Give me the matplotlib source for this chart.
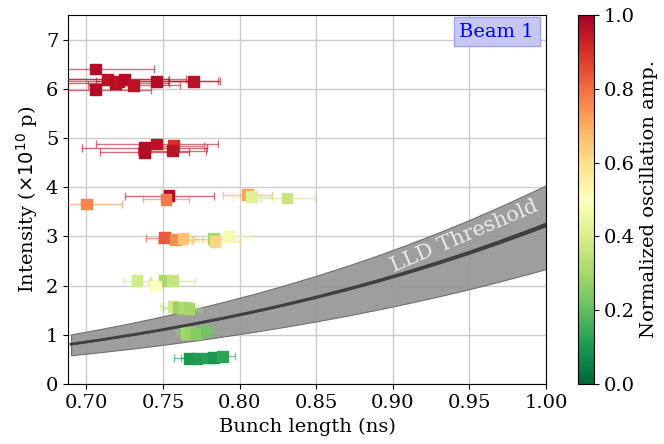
import numpy as np
import matplotlib.pyplot as plt
import matplotlib as mpl

plt.rcParams['font.family'] = 'DejaVu Serif'
plt.rcParams['font.size'] = 14

# bunch length (ns), length spread (ns), intensity (1e10 p), normalized oscillation amplitude
bunch_length = [0.706, 0.706, 0.714, 0.719, 0.721, 0.725, 0.731, 0.746, 0.770,
                0.738, 0.738, 0.746, 0.757, 0.756,
                0.700, 0.754, 0.752, 0.805, 0.808, 0.831,
                0.751, 0.758, 0.763, 0.783, 0.793, 0.784,
                0.733, 0.751, 0.756, 0.745,
                0.757, 0.760, 0.764, 0.767,
                0.765, 0.768, 0.772, 0.778,
                0.767, 0.772, 0.779, 0.783, 0.789]
length_err = [0.038, 0.036, 0.040, 0.035, 0.045, 0.040, 0.030, 0.040, 0.017,
              0.041, 0.029, 0.040, 0.020, 0.022,
              0.023, 0.029, 0.015, 0.016, 0.013, 0.018,
              0.012, 0.011, 0.013, 0.013, 0.014, 0.016,
              0.009, 0.009, 0.015, 0.010,
              0.009, 0.010, 0.009, 0.008,
              0.006, 0.007, 0.008, 0.007,
              0.010, 0.010, 0.010, 0.009, 0.008]
intensity = [6.40, 5.98, 6.19, 6.11, 6.15, 6.19, 6.07, 6.15, 6.15,
             4.80, 4.71, 4.88, 4.84, 4.74,
             3.66, 3.83, 3.75, 3.85, 3.81, 3.78,
             2.97, 2.93, 2.95, 2.95, 3.00, 2.90,
             2.10, 2.10, 2.10, 1.99,
             1.58, 1.55, 1.55, 1.53,
             1.03, 1.05, 1.03, 1.08,
             0.52, 0.52, 0.53, 0.54, 0.56]
osc_amp = [0.97, 0.97, 0.96, 0.97, 0.96, 0.97, 0.96, 0.97, 0.96,
           0.97, 0.97, 0.96, 0.90, 0.96,
           0.76, 0.97, 0.78, 0.72, 0.42, 0.36,
           0.83, 0.75, 0.66, 0.30, 0.47, 0.62,
           0.38, 0.30, 0.36, 0.50,
           0.38, 0.28, 0.32, 0.30,
           0.30, 0.28, 0.25, 0.22,
           0.10, 0.11, 0.12, 0.10, 0.13]

# LLD threshold and its uncertainty band
thr_length = [0.69, 0.71, 0.73, 0.75, 0.77, 0.79, 0.81, 0.83, 0.85,
              0.87, 0.89, 0.91, 0.93, 0.95, 0.97, 0.99, 1.00]
thr_center = [0.810, 0.901, 1.000, 1.106, 1.221, 1.344, 1.475, 1.616, 1.767,
              1.927, 2.098, 2.280, 2.474, 2.678, 2.896, 3.125, 3.245]
thr_upper = [1.008, 1.122, 1.245, 1.377, 1.520, 1.673, 1.836, 2.012, 2.200,
             2.399, 2.612, 2.839, 3.080, 3.334, 3.606, 3.891, 4.040]
thr_lower = [0.583, 0.649, 0.720, 0.796, 0.879, 0.968, 1.062, 1.164, 1.272,
             1.387, 1.511, 1.642, 1.781, 1.928, 2.085, 2.250, 2.336]

fig = plt.figure(figsize=(6.64, 4.44), dpi=100)
ax = fig.add_axes([68/664, 60/444, 478/664, 369/444])
cax = fig.add_axes([578/664, 60/444, 16/664, 369/444])

cmap = plt.get_cmap('RdYlGn_r')
norm = mpl.colors.Normalize(0, 1)

ax.fill_between(thr_length, thr_lower, thr_upper, color='0.58', alpha=0.9,
                edgecolor='0.4', lw=0.8, zorder=1)
c = np.array(thr_center)
ax.fill_between(thr_length, c * 0.985, c * 1.015, color='0.25', lw=0, zorder=2)
ax.plot(thr_length, thr_center, color='0.25', lw=2, zorder=2)
ax.text(0.947, 3.0, 'LLD Threshold', color='0.93', fontsize=15,
        rotation=23, ha='center', va='center', zorder=3)

for x, xe, y, v in zip(bunch_length, length_err, intensity, osc_amp):
    col = cmap(norm(v))
    ax.errorbar(x, y, xerr=xe, fmt='none', ecolor=col, alpha=0.6,
                capsize=3, elinewidth=1.0, zorder=4)
sc = ax.scatter(bunch_length, intensity, c=osc_amp, cmap=cmap, norm=norm,
                marker='s', s=60, zorder=5)

ax.set_xlim(0.688, 1.0)
ax.set_ylim(0, 7.5)
ax.set_xticks([0.70, 0.75, 0.80, 0.85, 0.90, 0.95, 1.00])
ax.set_yticks(range(8))
ax.grid(True, color='0.8', lw=1)
ax.set_axisbelow(True)
ax.set_xlabel('Bunch length (ns)')
ax.set_ylabel(r'Intensity ($\times 10^{10}$ p)')

ax.text(0.897, 0.955, 'Beam 1', transform=ax.transAxes, color='blue',
        fontsize=14, ha='center', va='center',
        bbox=dict(boxstyle='square,pad=0.3', facecolor='#c6c8f4',
                  edgecolor='#a0a4ee'))

cb = fig.colorbar(sc, cax=cax)
cb.set_label('Normalized oscillation amp.')
cb.set_ticks([0, 0.2, 0.4, 0.6, 0.8, 1.0])

fig.savefig('out.png', dpi=100)
